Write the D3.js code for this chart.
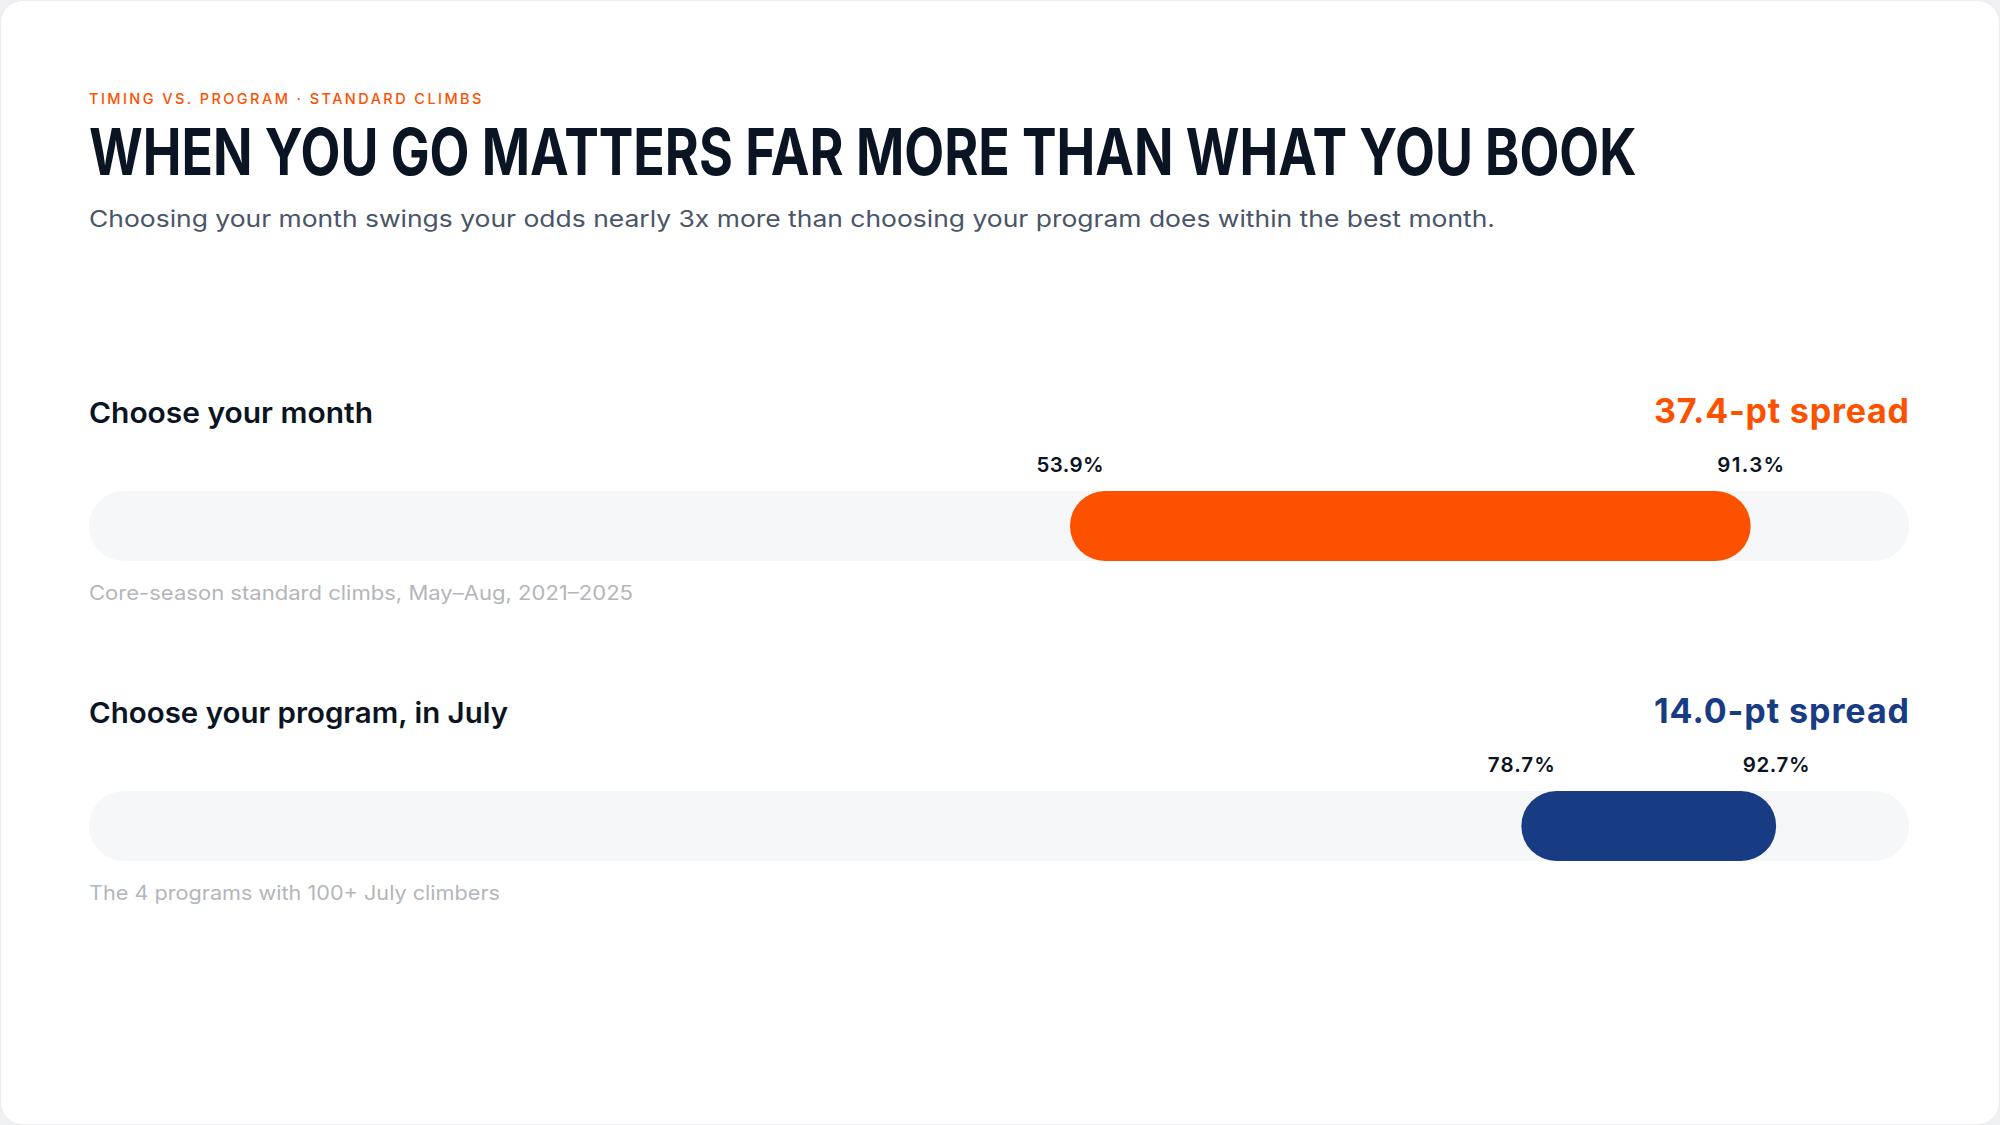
<!DOCTYPE html>
<html>
<head>
<meta charset="utf-8">
<script src="https://cdn.jsdelivr.net/npm/d3@7"></script>
<style>
  html, body { margin: 0; padding: 0; background: #eef0f2; }
  svg { display: block; }
  text { font-family: Inter, "Noto Sans", sans-serif; }
</style>
</head>
<body>
<svg id="chart" width="2000" height="1125"></svg>
<script>
// data
const sections = ["Choose your month", "Choose your program, in July"];
const lows = [53.9, 78.7];
const highs = [91.3, 92.7];
const notes = ["Core-season standard climbs, May\u2013Aug, 2021\u20132025", "The 4 programs with 100+ July climbers"];
const eyebrow = "TIMING VS. PROGRAM \u00b7 STANDARD CLIMBS";
const title = "WHEN YOU GO MATTERS FAR MORE THAN WHAT YOU BOOK";
const subtitle = "Choosing your month swings your odds nearly 3x more than choosing your program does within the best month.";

const W = 2000, H = 1125;
const colors = ["#fc5200", "#183c84"];

const svg = d3.select("#chart");

// card
svg.append("rect")
    .attr("x", 0.5).attr("y", 0.5)
    .attr("width", W - 1).attr("height", H - 1)
    .attr("rx", 22)
    .attr("fill", "#ffffff")
    .attr("stroke", "#ececef")

// header
svg.append("text")
    .attr("x", 89).attr("y", 104)
    .attr("font-size", 14.5)
    .attr("font-weight", 500)
    .attr("letter-spacing", 1.6)
    .attr("fill", "#fc5200")
    .attr("textLength", 394)
    .text(eyebrow)

// title is squeezed horizontally to the reference's condensed width
const titleText = svg.append("text")
    .attr("x", 0).attr("y", 0)
    .attr("font-size", 65)
    .attr("font-weight", 700)
    .attr("fill", "#0b1422")
    .text(title)
const sx = 1548 / titleText.node().getComputedTextLength()
titleText.attr("transform", `translate(89, 175) scale(${sx}, 1)`)

svg.append("text")
    .attr("x", 89).attr("y", 227)
    .attr("font-size", 22.5)
    .attr("font-weight", 400)
    .attr("fill", "#4a5568")
    .attr("textLength", 1406)
    .attr("lengthAdjust", "spacingAndGlyphs")
    .text(subtitle)

const x = d3.scaleLinear()
    .domain([0, 100])
    .range([89, 1909])

const yOff = d3.scalePoint()
    .domain(sections)
    .range([0, 300])

const barH = 70;

const rows = svg.selectAll("g.row")
    .data(sections.map((s, i) => ({name: s, lo: lows[i], hi: highs[i], note: notes[i], color: colors[i]})))
    .enter()
    .append("g")
        .attr("class", "row")
        .attr("transform", d => `translate(0, ${yOff(d.name)})`)

rows.append("text")
    .attr("x", x(0)).attr("y", 423)
    .attr("font-size", 28)
    .attr("font-weight", 600)
    .attr("fill", "#0b1422")
    .attr("textLength", (d, i) => [284, 419][i])
    .attr("lengthAdjust", "spacingAndGlyphs")
    .text(d => d.name)

rows.append("text")
    .attr("x", x(100)).attr("y", 423)
    .attr("text-anchor", "end")
    .attr("font-size", 34)
    .attr("font-weight", 700)
    .attr("fill", d => d.color)
    .attr("textLength", 255)
    .text(d => `${(d.hi - d.lo).toFixed(1)}-pt spread`)

// track
rows.append("rect")
    .attr("x", x(0)).attr("y", 491)
    .attr("width", x(100) - x(0)).attr("height", barH)
    .attr("rx", barH / 2)
    .attr("fill", "#f6f7f9")

// range bar
rows.append("rect")
    .attr("x", d => x(d.lo)).attr("y", 491)
    .attr("width", d => x(d.hi) - x(d.lo)).attr("height", barH)
    .attr("rx", barH / 2)
    .attr("fill", d => d.color)

// end labels
rows.selectAll("text.val")
    .data(d => [d.lo, d.hi])
    .enter()
    .append("text")
        .attr("class", "val")
        .attr("x", v => x(v)).attr("y", 472)
        .attr("text-anchor", "middle")
        .attr("font-size", 20.5)
        .attr("font-weight", 600)
        .attr("fill", "#0b1422")
        .attr("textLength", 67)
        .text(v => v.toFixed(1) + "%")

rows.append("text")
    .attr("x", x(0)).attr("y", 600)
    .attr("font-size", 19.5)
    .attr("font-weight", 400)
    .attr("fill", "#b3b6bb")
    .attr("textLength", (d, i) => [544, 411][i])
    .attr("lengthAdjust", "spacingAndGlyphs")
    .text(d => d.note)
</script>
</body>
</html>
